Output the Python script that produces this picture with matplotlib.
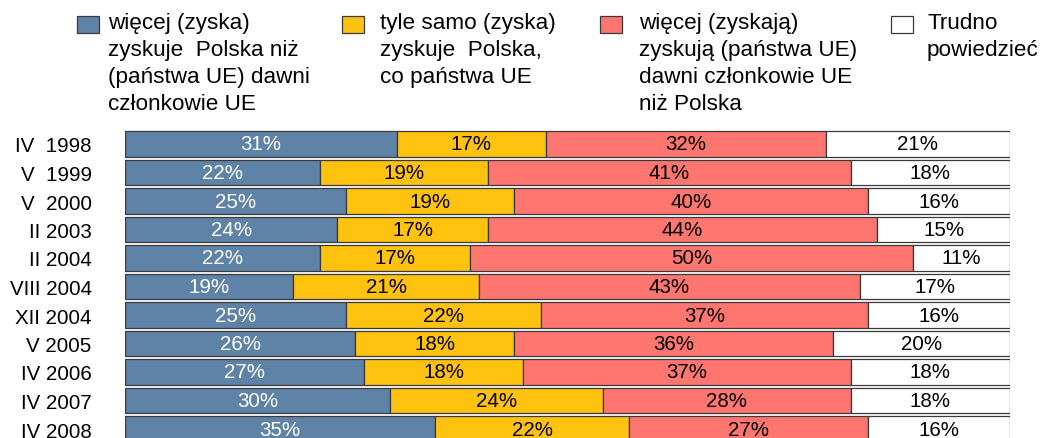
import numpy as np
import matplotlib
matplotlib.use("Agg")
import matplotlib.pyplot as plt
from matplotlib.patches import Rectangle

plt.rcParams['font.family'] = ['Liberation Sans', 'DejaVu Sans']

# dane
okresy = ["IV  1998", "V  1999", "V  2000", "II 2003", "II 2004", "VIII 2004",
          "XII 2004", "V 2005", "IV 2006", "IV 2007", "IV 2008"]
wiecej_polska = [31, 22, 25, 24, 22, 19, 25, 26, 27, 30, 35]
tyle_samo = [17, 19, 19, 17, 17, 21, 22, 18, 18, 24, 22]
wiecej_ue = [32, 41, 40, 44, 50, 43, 37, 36, 37, 28, 27]
trudno = [21, 18, 16, 15, 11, 17, 16, 20, 18, 18, 16]

legenda = ["więcej (zyska)\nzyskuje  Polska niż\n(państwa UE) dawni\nczłonkowie UE",
           "tyle samo (zyska)\nzyskuje  Polska,\nco państwa UE",
           "więcej (zyskają)\nzyskują (państwa UE)\ndawni członkowie UE\nniż Polska",
           "Trudno\npowiedzieć"]
kolory = ["#5F82A7", "#FFC20F", "#FF7570", "#FFFFFF"]
kolory_tekstu = ["white", "black", "black", "black"]

W, H = 1048, 439
fig = plt.figure(figsize=(W / 100, H / 100), dpi=100)
top_px, bot_px = 130.75, 444.25
ax = fig.add_axes([125 / W, 1 - bot_px / H, 885 / W, (bot_px - top_px) / H])

serie = np.array([wiecej_polska, tyle_samo, wiecej_ue, trudno], dtype=float)
udzialy = serie / serie.sum(axis=0)   # wykres 100% skumulowany
y = np.arange(len(okresy))
lewo = np.zeros(len(okresy))
for i in range(4):
    ax.barh(y, udzialy[i], left=lewo, height=0.88, color=kolory[i],
            edgecolor="#3a3a3a", linewidth=0.9)
    for j in range(len(okresy)):
        ax.text(lewo[j] + udzialy[i][j] / 2, y[j], f"{serie[i][j]:.0f}%",
                ha="center", va="center", fontsize=14.8, color=kolory_tekstu[i])
    lewo += udzialy[i]

ax.set_xlim(0, 1)
ax.set_ylim(len(okresy) - 0.5, -0.5)
ax.set_yticks(y)
ax.set_yticklabels(okresy, fontsize=14.8)
ax.tick_params(axis="y", length=0, pad=24)
ax.set_xticks([])
for s in ax.spines.values():
    s.set_visible(False)

# legenda
kw_x = [77, 342, 600, 891]
tx_x = [108, 380, 639, 927]
for i in range(4):
    fig.add_artist(Rectangle((kw_x[i] / W, 1 - 34 / H), 22 / W, 17 / H,
                             facecolor=kolory[i], edgecolor="#3a3a3a",
                             linewidth=0.9, transform=fig.transFigure))
    fig.text(tx_x[i] / W, 1 - 13 / H, legenda[i], ha="left", va="top",
             fontsize=16.2, linespacing=1.37)

fig.savefig("out.png", dpi=100)
